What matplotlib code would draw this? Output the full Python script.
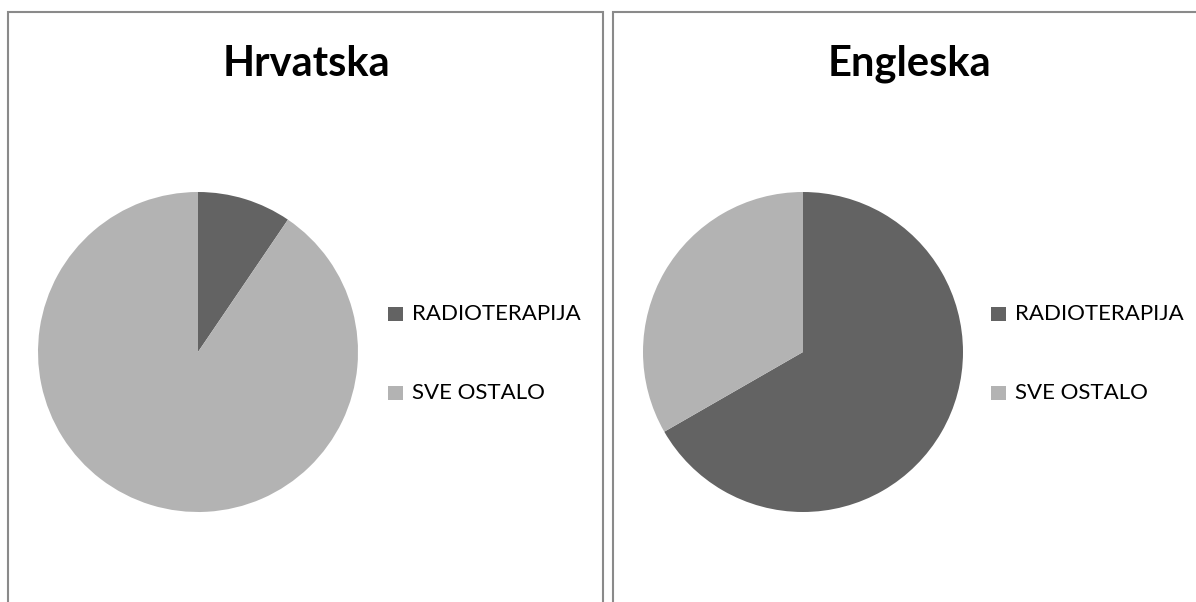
import matplotlib
matplotlib.use("Agg")
import matplotlib.pyplot as plt
from matplotlib.patches import Rectangle

# Podaci
kategorije = ["RADIOTERAPIJA", "SVE OSTALO"]
hrvatska = [9.5, 90.5]
engleska = [66.7, 33.3]
boje = ["#636363", "#b3b3b3"]

W, H = 1196, 602
fig = plt.figure(figsize=(W / 100, H / 100), dpi=100)
plt.rcParams["font.family"] = ["Lato", "DejaVu Sans"]


def px_ax(x0, y0, w, h):
    """Osi zadane u pikselima (gornji lijevi kut)."""
    return fig.add_axes([x0 / W, 1 - (y0 + h) / H, w / W, h / H])


# Okviri panela
for x0, x1 in [(8, 603), (613, 1250)]:
    fig.patches.append(Rectangle((x0 / W, -0.1), (x1 - x0) / W, 1.1 - 11.5 / H,
                                 transform=fig.transFigure, fill=False,
                                 edgecolor="#8a8a8a", linewidth=1.5))

# naslov, vrijednosti, centar pite (x), centar naslova (x), legenda (x)
paneli = [
    ("Hrvatska", hrvatska, 198, 306, 388),
    ("Engleska", engleska, 803, 909, 991),
]

for naslov, vrijednosti, cx, tx, lx in paneli:
    r = 160
    ax = px_ax(cx - r, 352 - r, 2 * r, 2 * r)
    ax.pie(vrijednosti, colors=boje, startangle=90, counterclock=False,
           radius=1.0, wedgeprops=dict(linewidth=0))
    ax.set_xlim(-1, 1)
    ax.set_ylim(-1, 1)
    ax.set_aspect("equal")
    ax.axis("off")

    fig.text(tx / W, 1 - 64 / H, naslov, ha="center", va="center",
             fontsize=30, fontweight="bold")

    for i, (kat, boja) in enumerate(zip(kategorije, boje)):
        y = 314 + i * 79
        fig.patches.append(Rectangle((lx / W, 1 - (y + 7) / H), 15 / W, 14 / H,
                                     transform=fig.transFigure, facecolor=boja,
                                     edgecolor="none"))
        fig.text((lx + 24) / W, 1 - y / H, kat, ha="left", va="center",
                 fontsize=16)

fig.savefig("out.png", dpi=100)
